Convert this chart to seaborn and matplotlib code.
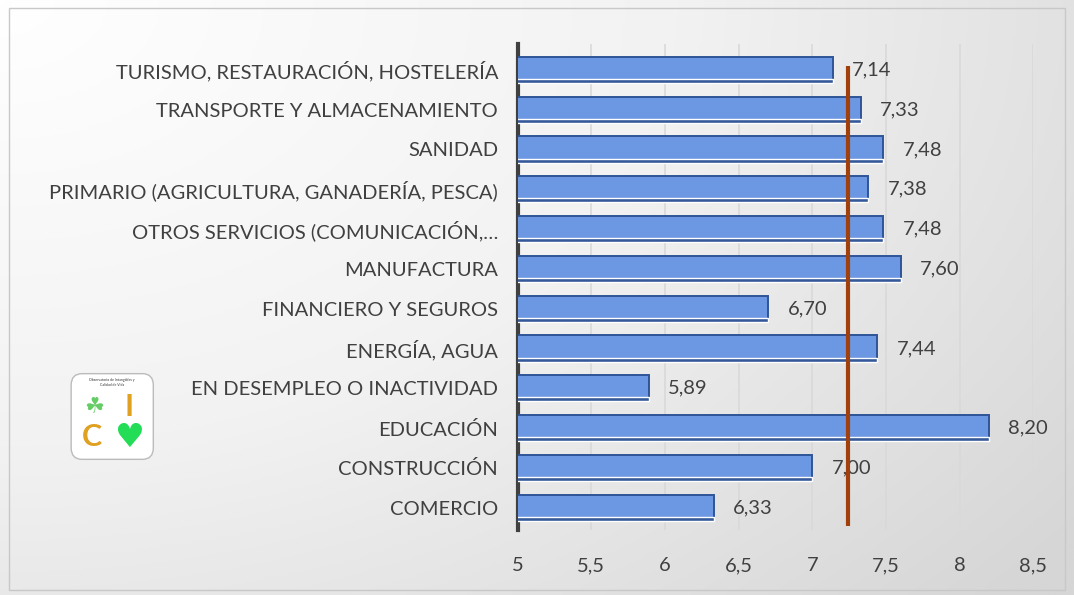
import numpy as np
import pandas as pd
import seaborn as sns
import matplotlib.pyplot as plt
from matplotlib.patches import FancyBboxPatch
from matplotlib.colors import LinearSegmentedColormap

sectores = ["TURISMO, RESTAURACIÓN, HOSTELERÍA", "TRANSPORTE Y ALMACENAMIENTO", "SANIDAD",
            "PRIMARIO (AGRICULTURA, GANADERÍA, PESCA)", "OTROS SERVICIOS (COMUNICACIÓN,…",
            "MANUFACTURA", "FINANCIERO Y SEGUROS", "ENERGÍA, AGUA", "EN DESEMPLEO O INACTIVIDAD",
            "EDUCACIÓN", "CONSTRUCCIÓN", "COMERCIO"]
valores = [7.14, 7.33, 7.48, 7.38, 7.48, 7.60, 6.70, 7.44, 5.89, 8.20, 7.00, 6.33]
media = 7.24
xticks = [5, 5.5, 6, 6.5, 7, 7.5, 8, 8.5]

df = pd.DataFrame({"sector": sectores, "valor": valores})

sns.set_style("white")
plt.rcParams['font.family'] = ['Lato', 'DejaVu Sans']
gris = "#404040"

fig = plt.figure(figsize=(10.74, 5.95), dpi=100)

# fondo degradado
bg = fig.add_axes([0, 0, 1, 1], zorder=-10)
yy, xx = np.mgrid[0:1:300j, 0:1:500j]
grad = np.clip(np.sqrt((xx * 0.95) ** 2 + (yy * 0.8) ** 2) / 1.2, 0, 1)
cmap_bg = LinearSegmentedColormap.from_list("bg", ["#ffffff", "#f2f2f2", "#d6d6d6"])
bg.imshow(grad, cmap=cmap_bg, vmin=0, vmax=1, extent=[0, 1, 0, 1],
          aspect="auto", origin="upper")
bg.add_patch(plt.Rectangle((0.008, 0.008), 0.984, 0.978, fill=False, ec="#c8c8c8", lw=1))
bg.set_xlim(0, 1)
bg.set_ylim(0, 1)
bg.axis("off")

ax = fig.add_axes([0.482, 0.11, 0.48, 0.816])
ax.patch.set_alpha(0)
sns.barplot(data=df, x="valor", y="sector", orient="h", color="#6c97e2", saturation=1,
            width=0.66, edgecolor="#2f5597", linewidth=1.4, ax=ax, zorder=3)
# banda oscura inferior de cada barra (efecto 3D)
ax.barh(np.arange(len(valores)) + 0.28, valores, height=0.1, left=0, color="#34589a",
        zorder=4)
ax.set_xlim(5, 8.5)
ax.set_xticks(xticks)
ax.set_xticklabels([str(t).replace(".", ",") if t % 1 else str(int(t)) for t in xticks])
ax.grid(axis="x", color="#d9d9d9", lw=1.2, zorder=0)
ax.set_xlabel("")
ax.set_ylabel("")
for s in ["top", "right", "bottom"]:
    ax.spines[s].set_visible(False)
ax.spines["left"].set_color("#404040")
ax.spines["left"].set_linewidth(3)
ax.tick_params(axis="x", length=0, pad=20, labelsize=14.5, labelcolor=gris)
ax.tick_params(axis="y", length=0, pad=14, labelsize=14.5, labelcolor=gris)

ax.bar_label(ax.containers[0], labels=[f"{v:.2f}".replace(".", ",") for v in valores],
             padding=14, fontsize=14.5, color=gris)

ax.vlines(media, -0.1, 11.45, color="#a0410d", lw=3, zorder=5)
ax.set_ylim(11.55, -0.65)

# logo
lg = fig.add_axes([0.062, 0.22, 0.085, 0.16])
lg.set_xlim(0, 1)
lg.set_ylim(0, 1)
lg.axis("off")
lg.add_patch(FancyBboxPatch((0.05, 0.05), 0.9, 0.9, boxstyle="round,pad=0,rounding_size=0.12",
                            fc="white", ec="#bbbbbb", lw=1))
lg.text(0.5, 0.86, "Observatorio de Intangibles y\nCalidad de Vida", fontsize=2.5,
        ha="center", va="center", color="#333333")
lg.text(0.3, 0.6, "☘", fontsize=16, ha="center", va="center", color="#66cc66")
lg.text(0.68, 0.6, "I", fontsize=22, ha="center", va="center", color="#e0a020", weight="bold")
lg.text(0.28, 0.28, "C", fontsize=22, ha="center", va="center", color="#e0a020", weight="bold")
lg.text(0.68, 0.28, "♥", fontsize=24, ha="center", va="center", color="#22dd55", family="DejaVu Sans")

fig.savefig("out.png", dpi=100)
